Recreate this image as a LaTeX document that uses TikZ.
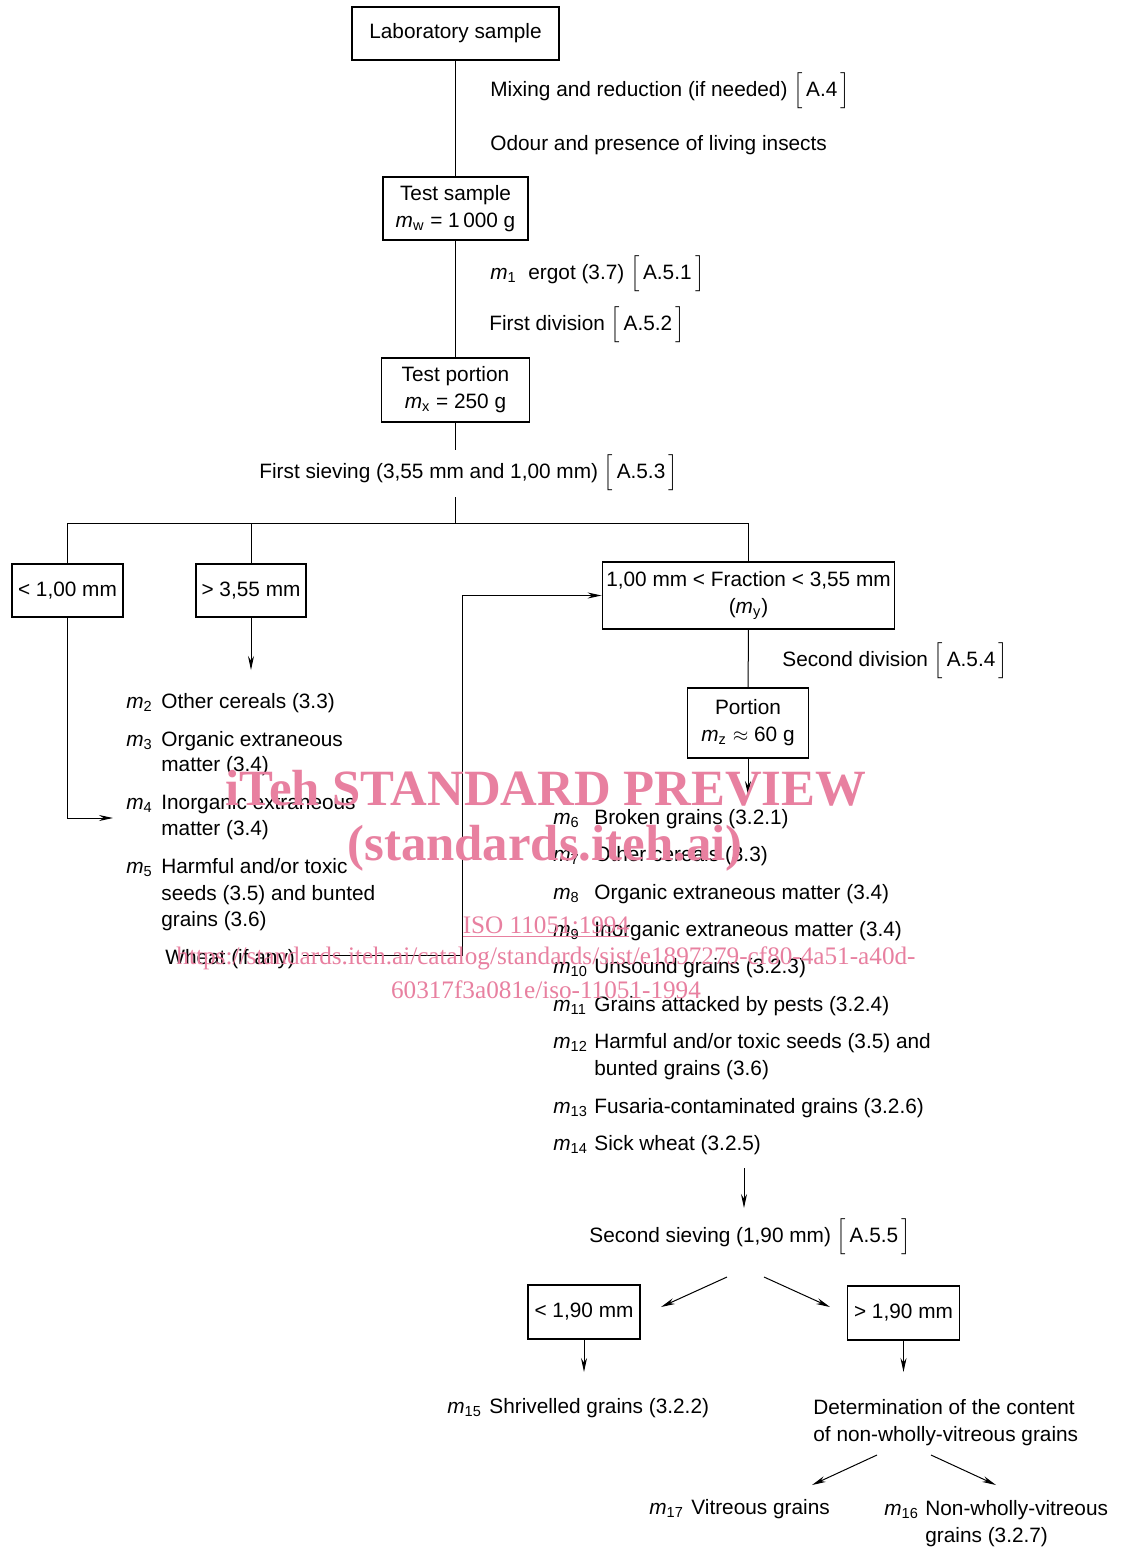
\documentclass[tikz,border=0pt]{standalone}
\usepackage{fontspec}
\setmainfont{Liberation Sans}
\newfontfamily\wmfont{Liberation Serif}
\usetikzlibrary{arrows.meta}
\definecolor{wm}{RGB}{232,128,160}
\newcommand\bref[1]{$\Bigl[$\,#1\,$\Bigr]$}
\newcommand\mi[1]{{\itshape m}\textsubscript{#1}}
\begin{document}
\begin{tikzpicture}[x=0.5pt,y=-0.5pt,
  every node/.style={inner sep=0pt, font=\fontsize{10.4}{13.5}\selectfont},
  box/.style={draw, line width=0.9pt, align=center},
  txt/.style={anchor=base west},
  ln/.style={line width=0.5pt},
  arr/.style={line width=0.5pt, -{Stealth[length=7pt,width=3pt]}},
  wmtext/.style={text=wm, font=\wmfont\bfseries\fontsize{25.4}{28}\selectfont},
  wmsmall/.style={text=wm, font=\wmfont\fontsize{12.6}{14}\selectfont}]
\fill[white] (0,0) rectangle (1135,1548);
\useasboundingbox (0,0) rectangle (1135,1548);

% boxes
\node[box, minimum width=103.5pt, minimum height=26.5pt] (lab) at (455.5,33.5) {Laboratory sample};
\node[box, minimum width=72.5pt, minimum height=31.5pt] (tsample) at (455.5,208.5) {Test sample\\ \mi{w} = 1\,000 g};
\node[box, minimum width=74pt, minimum height=32pt] (tportion) at (455.5,390) {Test portion\\ \mi{x} = 250 g};
\node[box, minimum width=55.5pt, minimum height=26.5pt] (lt100) at (67.5,590.5) {< 1,00 mm};
\node[box, minimum width=55pt, minimum height=26.5pt] (gt355) at (251,590.5) {> 3,55 mm};
\node[box, minimum width=146pt, minimum height=33.5pt] (frac) at (748.5,595.5) {1,00 mm < Fraction < 3,55 mm\\ (\mi{y})};
\node[box, minimum width=60.5pt, minimum height=35pt] (portion) at (748,723) {Portion\\ \mi{z} $\approx$ 60 g};
\node[box, minimum width=56pt, minimum height=27pt] (lt190) at (584,1312) {< 1,90 mm};
\node[box, minimum width=56pt, minimum height=27pt] (gt190) at (903.5,1313) {> 1,90 mm};

% step labels
\node[txt] (mix) at (490,96) {Mixing and reduction (if needed) \bref{A.4}};
\node[txt] (odour) at (490,150) {Odour and presence of living insects};
\node[txt] (ergot) at (490,279) {\mi{1}\ \ ergot (3.7) \bref{A.5.1}};
\node[txt] (div1) at (489,330) {First division \bref{A.5.2}};
\node[txt] (sieve1) at (259,478) {First sieving (3,55 mm and 1,00 mm) \bref{A.5.3}};
\node[txt] (div2) at (782,666) {Second division \bref{A.5.4}};
\node[txt] (sieve2) at (589,1242) {Second sieving (1,90 mm)\ \bref{A.5.5}};

% left list
\node[txt] (l2) at (126,708) {\mi{2}};
\node[txt] (t2) at (161,708) {Other cereals (3.3)};
\node[txt] (l3) at (126,746) {\mi{3}};
\node[txt] (t3) at (161,746) {Organic extraneous};
\node[txt] (t3b) at (161,771) {matter (3.4)};
\node[txt] (l4) at (126,809) {\mi{4}};
\node[txt] (t4) at (161,809) {Inorganic extraneous};
\node[txt] (t4b) at (161,835) {matter (3.4)};
\node[txt] (l5) at (126,873) {\mi{5}};
\node[txt] (t5) at (161,873) {Harmful and/or toxic};
\node[txt] (t5b) at (161,900) {seeds (3.5) and bunted};
\node[txt] (t5c) at (161,926) {grains (3.6)};
\node[txt, inner xsep=4pt] (wheat) at (157,964) {Wheat (if any)};

% right list
\node[txt] (l6) at (553,824) {\mi{6}};
\node[txt] (t6) at (594,824) {Broken grains (3.2.1)};
\node[txt] (l7) at (553,861) {\mi{7}};
\node[txt] (t7) at (594,861) {Other cereals (3.3)};
\node[txt] (l8) at (553,899) {\mi{8}};
\node[txt] (t8) at (594,899) {Organic extraneous matter (3.4)};
\node[txt] (l9) at (553,936) {\mi{9}};
\node[txt] (t9) at (594,936) {Inorganic extraneous matter (3.4)};
\node[txt] (l10) at (553,973) {\mi{10}};
\node[txt] (t10) at (594,973) {Unsound grains (3.2.3)};
\node[txt] (l11) at (553,1011) {\mi{11}};
\node[txt] (t11) at (594,1011) {Grains attacked by pests (3.2.4)};
\node[txt] (l12) at (553,1048) {\mi{12}};
\node[txt] (t12) at (594,1048) {Harmful and/or toxic seeds (3.5) and};
\node[txt] (t12b) at (594,1075) {bunted grains (3.6)};
\node[txt] (l13) at (553,1113) {\mi{13}};
\node[txt] (t13) at (594,1113) {Fusaria-contaminated grains (3.2.6)};
\node[txt] (l14) at (553,1150) {\mi{14}};
\node[txt] (t14) at (594,1150) {Sick wheat (3.2.5)};

% bottom
\node[txt] (l15) at (447,1413) {\mi{15}};
\node[txt] (t15) at (489,1413) {Shrivelled grains (3.2.2)};
\node[txt] (det) at (813,1414) {Determination of the content};
\node[txt] (detb) at (813,1441) {of non-wholly-vitreous grains};
\node[txt] (l17) at (649,1514) {\mi{17}};
\node[txt] (t17) at (691,1514) {Vitreous grains};
\node[txt] (l16) at (884,1515) {\mi{16}};
\node[txt] (t16) at (925,1515) {Non-wholly-vitreous};
\node[txt] (t16b) at (925,1542) {grains (3.2.7)};

% free ends
\coordinate (s1a) at (455.5,450);
\coordinate (s1b) at (455.5,497);
\coordinate (split) at (455.5,523);
\coordinate (c1) at (251,670);
\coordinate (c2) at (113,818);
\coordinate (loop) at (462,955);
\coordinate (c3) at (748,795);
\coordinate (c4) at (744,1168);
\coordinate (c5) at (744,1208);
\coordinate (d1) at (727,1277);
\coordinate (d2) at (661,1307);
\coordinate (d3) at (764,1277);
\coordinate (d4) at (830,1307);
\coordinate (c8) at (584,1372);
\coordinate (c9) at (903.5,1372);
\coordinate (e1) at (877,1455);
\coordinate (e2) at (812,1485);
\coordinate (e3) at (931,1455);
\coordinate (e4) at (996,1485);

% connectors
\draw[ln] (lab) -- (tsample);
\draw[ln] (tsample) -- (tportion);
\draw[ln] (tportion) -- (s1a);
\draw[ln] (s1b) -- (split);
\draw[ln] (lt100) -- (lt100 |- split) -- (frac |- split) -- (frac);
\draw[ln] (gt355) -- (gt355 |- split);
\draw[arr] (gt355) -- (c1);
\draw[arr] (lt100) |- (c2);
\draw[arr] (wheat.east |- loop) -- (loop) |- (frac.west);
\draw[ln] (frac) -- (portion);
\draw[arr] (portion) -- (c3);
\draw[arr] (c4) -- (c5);
\draw[arr] (d1) -- (d2);
\draw[arr] (d3) -- (d4);
\draw[arr] (lt190) -- (c8);
\draw[arr] (gt190) -- (c9);
\draw[arr] (e1) -- (e2);
\draw[arr] (e3) -- (e4);

% watermark
\node[wmtext] (wm1) at (546,788) {iTeh STANDARD PREVIEW};
\node[wmtext] (wm2) at (545,848) {(standards.iteh.ai)};
\node[wmsmall] (wm3) at (546,927) {\underline{ISO 11051:1994}};
\node[wmsmall] (wm4) at (546,958) {https://standards.iteh.ai/catalog/standards/sist/e1897279-cf80-4a51-a40d-};
\node[wmsmall] (wm5) at (546,990) {60317f3a081e/iso-11051-1994};
\end{tikzpicture}
\end{document}
